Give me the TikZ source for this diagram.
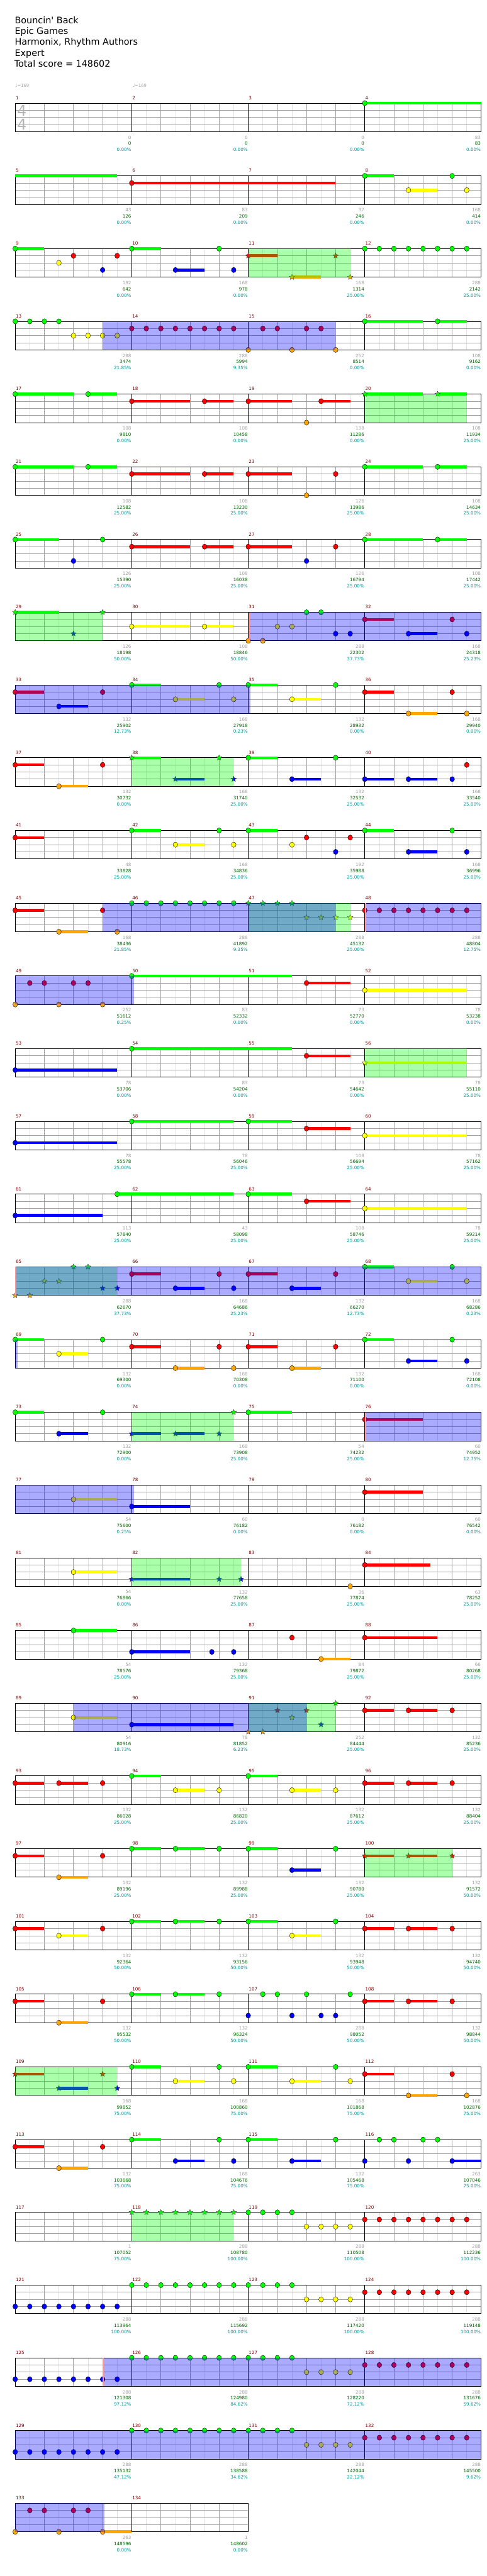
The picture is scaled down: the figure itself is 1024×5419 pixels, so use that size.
\documentclass[tikz,border=0pt]{standalone}
\usepackage{fontspec}
\setmainfont{DejaVu Sans}
\usetikzlibrary{shapes.geometric}
\definecolor{fretG}{RGB}{0,255,0}
\definecolor{fretR}{RGB}{255,0,0}
\definecolor{fretY}{RGB}{255,255,0}
\definecolor{fretB}{RGB}{0,0,255}
\definecolor{fretO}{RGB}{255,165,0}
\definecolor{barred}{RGB}{128,0,0}
\definecolor{ptgrey}{RGB}{160,160,160}
\definecolor{ptdark}{RGB}{0,100,0}
\definecolor{ptteal}{RGB}{0,150,150}
\definecolor{gridlight}{RGB}{225,225,225}
\definecolor{gridmid}{RGB}{160,160,160}
\definecolor{odpink}{RGB}{255,150,150}
\definecolor{tsgrey}{RGB}{180,180,180}
\def\ew{30.625}
\def\laneG{0}\def\laneR{1}\def\laneY{2}\def\laneB{3}\def\laneO{4}
\newcount\starno
\tikzset{
  rowat/.style={shift={(32,{217+153*(#1-1)})}},
  subline/.style={gridlight, line width=0.8pt},
  beatline/.style={gridmid, line width=0.8pt},
  laneline/.style={gridmid, line width=1pt},
  barline/.style={black, line width=0.8pt},
  staffframe/.style={black, line width=1.2pt},
  notehead/.style={draw=black, line width=0.5pt},
  starnote/.style={star, star points=5, star point ratio=2.2, minimum size=12pt,
                   inner sep=0pt, draw=black!80, line width=0.5pt},
  barnum/.style={anchor=west, inner sep=0pt, text=barred, font=\fontsize{9.5}{11}\selectfont},
  ptgray/.style={anchor=east, inner sep=0pt, text=ptgrey, font=\fontsize{9.5}{11}\selectfont},
  ptgreen/.style={anchor=east, inner sep=0pt, text=ptdark, font=\fontsize{9.5}{11}\selectfont},
  ptpct/.style={anchor=east, inner sep=0pt, text=ptteal, font=\fontsize{9.5}{11}\selectfont},
  titletxt/.style={anchor=base west, inner sep=0pt, font=\fontsize{19}{23}\selectfont},
  tempo/.style={anchor=west, inner sep=0pt, text=ptgrey, font=\fontsize{9}{11}\selectfont},
  timesig/.style={inner sep=0pt, text=tsgrey, font=\fontsize{31}{31}\selectfont},
}
% one staff of #1 bars, first bar number #2
\newcommand\staffrow[2]{%
  \pgfmathtruncatemacro\lastsub{#1*8-1}%
  \pgfmathtruncatemacro\lastbar{#1-1}%
  \pgfmathsetmacro\staffw{#1*245}%
  \foreach \i in {1,3,...,\lastsub}{\draw[subline] ({\i*\ew},0) -- ({\i*\ew},60);}
  \foreach \i in {2,4,...,\lastsub}{\draw[beatline] ({\i*\ew},0) -- ({\i*\ew},60);}
  \foreach \l in {1,2,3}{\draw[laneline] (0,\l*15) -- (\staffw,\l*15);}
  \foreach \k in {1,...,\lastbar}{\draw[barline] (\k*245,0) -- (\k*245,60);}
  \draw[staffframe] (0,0) rectangle (\staffw,60);
  \foreach \k in {0,...,\lastbar}{\pgfmathtruncatemacro\mn{#2+\k}%
    \node[barnum] (bar\mn) at (\k*245+1,-11) {\mn};}
}
\newcommand\gem[2]{\filldraw[notehead, fill=fret#2] ({#1*\ew},{\csname lane#2\endcsname*15}) ellipse [x radius=5, y radius=5.5];}
\newcommand\tail[3]{\fill[fret#3] ({#1*\ew},{\csname lane#3\endcsname*15-3}) rectangle ({#2*\ew},{\csname lane#3\endcsname*15+3});}
\newcommand\gemhold[3]{\tail{#1}{#2}{#3}\gem{#1}{#3}}
\newcommand\gemstar[2]{\global\advance\starno by 1
  \node[starnote, fill=fret#2] (star\the\starno) at ({#1*\ew},{\csname lane#2\endcsname*15}) {};}
\newcommand\starhold[3]{\tail{#1}{#2}{#3}\gemstar{#1}{#3}}
\newcommand\spzone[2]{\fill[fretG, opacity=0.333] ({#1*\ew},0) rectangle ({#2*\ew},60);}
\newcommand\odzone[2]{\fill[fretB, opacity=0.333] ({#1*\ew},0) rectangle ({#2*\ew},60);}
\newcommand\odmark[1]{\fill[odpink] ({#1*\ew},0) rectangle ({#1*\ew+3},60);}
\newcommand\scoreline[1]{%
  \foreach \g/\s/\q [count=\j] in {#1}{%
    \node[ptgray]  (sc\rw-\j)  at ({\j*245-1},72) {\g};
    \node[ptgreen] (tot\rw-\j) at ({\j*245-1},85) {\s};
    \node[ptpct]   (pct\rw-\j) at ({\j*245-1},98) {\q\%};
  }}

\begin{document}
\begin{tikzpicture}[x=1pt, y=-1pt]
  \useasboundingbox (0,0) rectangle (1024,5419);
  \fill[white] (0,0) rectangle (1024,5419);
  \node[titletxt] (song)   at (31,49)  {Bouncin\textquotesingle{} Back};
  \node[titletxt] (artist) at (31,72)  {Epic Games};
  \node[titletxt] (charter) at (31,95) {Harmonix, Rhythm Authors};
  \node[titletxt] (diff)   at (31,118) {Expert};
  \node[titletxt] (total)  at (30,141) {Total score = 148602};
  \node[tempo] (bpmA) at (32,180)  {♩=169};
  \node[tempo] (bpmB) at (279,180) {♩=169};

  % bars 1-4
  \begin{scope}[rowat=1]\def\rw{1}
    \staffrow{4}{1}
    \node[timesig] (tsnum) at (14,16) {4};
    \node[timesig] (tsden) at (14,45) {4};
    \gemhold{24}{32}{G}
    \scoreline{0/0/0.00, 0/0/0.00, 0/0/0.00, 83/83/0.00}
  \end{scope}
  % bars 5-8
  \begin{scope}[rowat=2]\def\rw{2}
    \staffrow{4}{5}
    \tail{0}{7}{G}\gemhold{8}{22}{R}\gemhold{24}{26}{G}\gem{30}{G}\gemhold{27}{29}{Y}\gem{31}{Y}
    \scoreline{43/126/0.00, 83/209/0.00, 37/246/0.00, 168/414/0.00}
  \end{scope}
  % bars 9-12
  \begin{scope}[rowat=3]\def\rw{3}
    \staffrow{4}{9}
    \gemhold{0}{2}{G}\gem{3}{Y}\gem{4}{R}\gem{6}{B}\gem{7}{R}\gemhold{8}{10}{G}\gemhold{11}{13}{B}
    \gem{14}{G}\gem{15}{B}\starhold{16}{18}{R}\starhold{19}{21}{O}\gemstar{22}{R}\gemstar{23}{O}
    \foreach \p in {24,...,31}{\gem{\p}{G}}
    \spzone{16}{23}
    \scoreline{192/642/0.00, 168/978/0.00, 168/1314/25.00, 288/2142/25.00}
  \end{scope}
  % bars 13-16
  \begin{scope}[rowat=4]\def\rw{4}
    \staffrow{4}{13}
    \foreach \p in {0,...,3}{\gem{\p}{G}}
    \foreach \p in {4,...,7}{\gem{\p}{Y}}
    \foreach \p in {8,...,15,17,18,20,21}{\gem{\p}{R}}
    \gem{16}{O}\gem{19}{O}\gem{22}{O}\gemhold{24}{28}{G}\gemhold{29}{31}{G}
    \odzone{6}{22}
    \scoreline{288/3474/21.85, 288/5994/9.35, 252/8514/0.00, 108/9162/0.00}
  \end{scope}
  % bars 17-20
  \begin{scope}[rowat=5]\def\rw{5}
    \staffrow{4}{17}
    \gemhold{0}{4}{G}\gemhold{5}{7}{G}\gemhold{8}{12}{R}\gemhold{13}{15}{R}\gemhold{16}{19}{R}
    \gemhold{21}{23}{R}\gem{20}{O}\starhold{24}{28}{G}\starhold{29}{31}{G}
    \spzone{24}{31}
    \scoreline{108/9810/0.00, 108/10458/0.00, 138/11286/0.00, 108/11934/25.00}
  \end{scope}
  % bars 21-24
  \begin{scope}[rowat=6]\def\rw{6}
    \staffrow{4}{21}
    \gemhold{0}{4}{G}\gemhold{5}{7}{G}\gemhold{8}{12}{R}\gemhold{13}{15}{R}\gemhold{16}{19}{R}
    \gem{22}{R}\gem{20}{O}\gemhold{24}{28}{G}\gemhold{29}{31}{G}
    \scoreline{108/12582/25.00, 108/13230/25.00, 126/13986/25.00, 108/14634/25.00}
  \end{scope}
  % bars 25-28
  \begin{scope}[rowat=7]\def\rw{7}
    \staffrow{4}{25}
    \gemhold{0}{3}{G}\gem{6}{G}\gem{4}{B}\gemhold{8}{12}{R}\gemhold{13}{15}{R}\gemhold{16}{19}{R}
    \gem{22}{R}\gem{20}{B}\gemhold{24}{28}{G}\gemhold{29}{31}{G}
    \scoreline{126/15390/25.00, 108/16038/25.00, 126/16794/25.00, 108/17442/25.00}
  \end{scope}
  % bars 29-32
  \begin{scope}[rowat=8]\def\rw{8}
    \staffrow{4}{29}
    \starhold{0}{3}{G}\gemstar{6}{G}\gemstar{4}{B}\gemhold{8}{12}{Y}\gemhold{13}{15}{Y}
    \gem{16}{O}\gem{17}{O}\gem{18}{Y}\gem{19}{Y}\gem{20}{G}\gem{21}{G}\gem{22}{B}\gem{23}{B}
    \gemhold{24}{26}{R}\gem{30}{R}\gemhold{27}{29}{B}\gem{31}{B}
    \spzone{0}{6}\odzone{16}{32}\odmark{16}
    \scoreline{126/18198/50.00, 108/18846/50.00, 288/22302/37.73, 168/24318/25.23}
  \end{scope}
  % bars 33-36
  \begin{scope}[rowat=9]\def\rw{9}
    \staffrow{4}{33}
    \gemhold{0}{2}{R}\gem{6}{R}\gemhold{3}{5}{B}\gemhold{8}{10}{G}\gem{14}{G}\gemhold{11}{13}{Y}
    \gem{15}{Y}\gemhold{16}{18}{G}\gemhold{19}{21}{Y}\gem{22}{G}\gemhold{24}{26}{R}\gem{30}{R}
    \gemhold{27}{29}{O}\gem{31}{O}
    \odzone{0}{16.15}
    \scoreline{132/25902/12.73, 168/27918/0.23, 132/28932/0.00, 168/29940/0.00}
  \end{scope}
  % bars 37-40
  \begin{scope}[rowat=10]\def\rw{10}
    \staffrow{4}{37}
    \gemhold{0}{2}{R}\gem{6}{R}\gemhold{3}{5}{O}\starhold{8}{10}{G}\gemstar{14}{G}\starhold{11}{13}{B}
    \gemstar{15}{B}\gemhold{16}{18}{G}\gem{22}{G}\gemhold{19}{21}{B}\gemhold{24}{26}{B}
    \gemhold{27}{29}{B}\gem{30}{B}\gem{31}{R}
    \spzone{8}{15}
    \scoreline{132/30732/0.00, 168/31740/25.00, 132/32532/25.00, 168/33540/25.00}
  \end{scope}
  % bars 41-44
  \begin{scope}[rowat=11]\def\rw{11}
    \staffrow{4}{41}
    \gemhold{0}{2}{R}\gemhold{8}{10}{G}\gem{14}{G}\gemhold{11}{13}{Y}\gem{15}{Y}\gemhold{16}{18}{G}
    \gem{19}{Y}\gem{20}{R}\gem{23}{R}\gem{22}{B}\gemhold{24}{26}{G}\gem{30}{G}\gemhold{27}{29}{B}\gem{31}{B}
    \scoreline{48/33828/25.00, 168/34836/25.00, 192/35988/25.00, 168/36996/25.00}
  \end{scope}
  % bars 45-48
  \begin{scope}[rowat=12]\def\rw{12}
    \staffrow{4}{45}
    \gemhold{0}{2}{R}\gem{6}{R}\gemhold{3}{5}{O}\gem{7}{O}
    \foreach \p in {8,...,15}{\gem{\p}{G}}
    \foreach \p in {16,...,19}{\gemstar{\p}{G}}
    \foreach \p in {20,...,23}{\gemstar{\p}{Y}}
    \foreach \p in {24,...,31}{\gem{\p}{R}}
    \spzone{16}{23}\odzone{6}{22}\odzone{24}{32}\odmark{24}
    \scoreline{168/38436/21.85, 288/41892/9.35, 288/45132/25.00, 288/48804/12.75}
  \end{scope}
  % bars 49-52
  \begin{scope}[rowat=13]\def\rw{13}
    \staffrow{4}{49}
    \gem{1}{R}\gem{2}{R}\gem{4}{R}\gem{5}{R}\gem{0}{O}\gem{3}{O}\gem{6}{O}
    \gemhold{8}{19}{G}\gemhold{20}{23}{R}\gemhold{24}{31}{Y}
    \odzone{0}{8.15}
    \scoreline{252/51612/0.25, 83/52332/0.00, 73/52770/0.00, 78/53238/0.00}
  \end{scope}
  % bars 53-56
  \begin{scope}[rowat=14]\def\rw{14}
    \staffrow{4}{53}
    \gemhold{0}{7}{B}\gemhold{8}{19}{G}\gemhold{20}{23}{R}\starhold{24}{31}{Y}
    \spzone{24}{31}
    \scoreline{78/53706/0.00, 83/54204/0.00, 73/54642/0.00, 78/55110/25.00}
  \end{scope}
  % bars 57-60
  \begin{scope}[rowat=15]\def\rw{15}
    \staffrow{4}{57}
    \gemhold{0}{7}{B}\gemhold{8}{15}{G}\gemhold{16}{19}{G}\gemhold{20}{23}{R}\gemhold{24}{31}{Y}
    \scoreline{78/55578/25.00, 78/56046/25.00, 108/56694/25.00, 78/57162/25.00}
  \end{scope}
  % bars 61-64
  \begin{scope}[rowat=16]\def\rw{16}
    \staffrow{4}{61}
    \gemhold{0}{6}{B}\gemhold{7}{15}{G}\gemhold{16}{19}{G}\gemhold{20}{23}{R}\gemhold{24}{31}{Y}
    \scoreline{113/57840/25.00, 43/58098/25.00, 108/58746/25.00, 78/59214/25.00}
  \end{scope}
  % bars 65-68
  \begin{scope}[rowat=17]\def\rw{17}
    \staffrow{4}{65}
    \gemstar{0}{O}\gemstar{1}{O}\gemstar{2}{Y}\gemstar{3}{Y}\gemstar{4}{G}\gemstar{5}{G}\gemstar{6}{B}\gemstar{7}{B}
    \gemhold{8}{10}{R}\gem{14}{R}\gemhold{16}{18}{R}\gem{22}{R}\gemhold{11}{13}{B}\gem{15}{B}
    \gemhold{19}{21}{B}\gemhold{24}{26}{G}\gem{30}{G}\gemhold{27}{29}{Y}\gem{31}{Y}
    \spzone{0}{7}\odzone{0}{32}\odmark{0}
    \scoreline{288/62670/37.73, 168/64686/25.23, 132/66270/12.73, 168/68286/0.23}
  \end{scope}
  % bars 69-72
  \begin{scope}[rowat=18]\def\rw{18}
    \staffrow{4}{69}
    \gemhold{0}{2}{G}\gem{6}{G}\gemhold{3}{5}{Y}\gemhold{8}{10}{R}\gem{14}{R}\gemhold{16}{18}{R}\gem{22}{R}
    \gemhold{11}{13}{O}\gem{15}{O}\gemhold{19}{21}{O}\gemhold{24}{26}{G}\gem{30}{G}\gemhold{27}{29}{B}\gem{31}{B}
    \odzone{0}{0.15}
    \scoreline{132/69300/0.00, 168/70308/0.00, 132/71100/0.00, 168/72108/0.00}
  \end{scope}
  % bars 73-76
  \begin{scope}[rowat=19]\def\rw{19}
    \staffrow{4}{73}
    \gemhold{0}{2}{G}\gem{6}{G}\gemhold{3}{5}{B}\starhold{8}{10}{B}\starhold{11}{13}{B}\gemstar{14}{B}
    \gemstar{15}{G}\gemhold{16}{19}{G}\gemhold{24}{28}{R}
    \spzone{8}{15}\odzone{24}{32}\odmark{24}
    \scoreline{132/72900/0.00, 168/73908/25.00, 54/74232/25.00, 60/74952/12.75}
  \end{scope}
  % bars 77-80
  \begin{scope}[rowat=20]\def\rw{20}
    \staffrow{4}{77}
    \gemhold{4}{7}{Y}\gemhold{8}{12}{B}\gemhold{24}{28}{R}
    \odzone{0}{8.15}
    \scoreline{54/75600/0.25, 60/76182/0.00, 0/76182/0.00, 60/76542/0.00}
  \end{scope}
  % bars 81-84
  \begin{scope}[rowat=21]\def\rw{21}
    \staffrow{4}{81}
    \gemhold{4}{7}{Y}\starhold{8}{12}{B}\gemstar{14}{B}\gemstar{15.5}{B}\gem{23}{O}\gemhold{24}{28.5}{R}
    \spzone{8}{15.5}
    \scoreline{54/76866/0.00, 132/77658/25.00, 36/77874/25.00, 63/78252/25.00}
  \end{scope}
  % bars 85-88
  \begin{scope}[rowat=22]\def\rw{22}
    \staffrow{4}{85}
    \gemhold{4}{7}{G}\gemhold{8}{12}{B}\gem{13.5}{B}\gem{15}{B}\gem{19}{R}\gemhold{21}{23}{O}\gemhold{24}{29}{R}
    \scoreline{54/78576/25.00, 132/79368/25.00, 84/79872/25.00, 66/80268/25.00}
  \end{scope}
  % bars 89-92
  \begin{scope}[rowat=23]\def\rw{23}
    \staffrow{4}{89}
    \gemhold{4}{7}{Y}\gemhold{8}{15}{B}\gemstar{16}{O}\gemstar{17}{O}\gemstar{18}{R}\gemstar{19}{Y}
    \gemstar{20}{R}\gemstar{21}{B}\gemstar{22}{G}\gemhold{24}{26}{R}\gemhold{27}{29}{R}\gem{30}{R}
    \spzone{16}{22}\odzone{4}{20}
    \scoreline{54/80916/18.73, 78/81852/6.23, 252/84444/25.00, 132/85236/25.00}
  \end{scope}
  % bars 93-96
  \begin{scope}[rowat=24]\def\rw{24}
    \staffrow{4}{93}
    \gemhold{0}{2}{R}\gemhold{3}{5}{R}\gem{6}{R}\gemhold{8}{10}{G}\gemhold{11}{13}{Y}\gem{14}{Y}
    \gemhold{16}{18}{G}\gemhold{19}{21}{Y}\gem{22}{Y}\gemhold{24}{26}{R}\gemhold{27}{29}{R}\gem{30}{R}
    \scoreline{132/86028/25.00, 132/86820/25.00, 132/87612/25.00, 132/88404/25.00}
  \end{scope}
  % bars 97-100
  \begin{scope}[rowat=25]\def\rw{25}
    \staffrow{4}{97}
    \gemhold{0}{2}{R}\gem{6}{R}\gemhold{3}{5}{O}\gemhold{8}{10}{G}\gemhold{11}{13}{G}\gem{14}{G}
    \gemhold{16}{18}{G}\gem{22}{G}\gemhold{19}{21}{B}\starhold{24}{26}{R}\starhold{27}{29}{R}\gemstar{30}{R}
    \spzone{24}{30}
    \scoreline{132/89196/25.00, 132/89988/25.00, 132/90780/25.00, 132/91572/50.00}
  \end{scope}
  % bars 101-104
  \begin{scope}[rowat=26]\def\rw{26}
    \staffrow{4}{101}
    \gemhold{0}{2}{R}\gem{6}{R}\gemhold{3}{5}{Y}\gemhold{8}{10}{G}\gemhold{11}{13}{G}\gem{14}{G}
    \gemhold{16}{18}{G}\gem{22}{G}\gemhold{19}{21}{Y}\gemhold{24}{26}{R}\gemhold{27}{29}{R}\gem{30}{R}
    \scoreline{132/92364/50.00, 132/93156/50.00, 132/93948/50.00, 132/94740/50.00}
  \end{scope}
  % bars 105-108
  \begin{scope}[rowat=27]\def\rw{27}
    \staffrow{4}{105}
    \gemhold{0}{2}{R}\gem{6}{R}\gemhold{3}{5}{O}\gemhold{8}{10}{G}\gemhold{11}{13}{G}\gem{14}{G}
    \foreach \p in {17,18,20,23}{\gem{\p}{G}}
    \foreach \p in {16,19,21,22}{\gem{\p}{B}}
    \gemhold{24}{26}{R}\gemhold{27}{29}{R}\gem{30}{R}
    \scoreline{132/95532/50.00, 132/96324/50.00, 288/98052/50.00, 132/98844/50.00}
  \end{scope}
  % bars 109-112
  \begin{scope}[rowat=28]\def\rw{28}
    \staffrow{4}{109}
    \starhold{0}{2}{R}\gemstar{6}{R}\starhold{3}{5}{B}\gemstar{7}{B}\gemhold{8}{10}{G}\gem{14}{G}
    \gemhold{11}{13}{Y}\gem{15}{Y}\gemhold{16}{18}{G}\gem{22}{G}\gemhold{19}{21}{Y}\gem{23}{Y}
    \gemhold{24}{26}{R}\gem{30}{R}\gemhold{27}{29}{O}\gem{31}{O}
    \spzone{0}{7}
    \scoreline{168/99852/75.00, 168/100860/75.00, 168/101868/75.00, 168/102876/75.00}
  \end{scope}
  % bars 113-116
  \begin{scope}[rowat=29]\def\rw{29}
    \staffrow{4}{113}
    \gemhold{0}{2}{R}\gem{6}{R}\gemhold{3}{5}{O}\gemhold{8}{10}{G}\gem{14}{G}\gemhold{11}{13}{B}
    \gem{15}{B}\gemhold{16}{18}{G}\gem{22}{G}\gemhold{19}{21}{B}
    \gem{24}{B}\gem{25}{G}\gem{26}{G}\gem{27}{B}\gem{28}{G}\gem{29}{G}\gemhold{30}{32}{B}
    \scoreline{132/103668/75.00, 168/104676/75.00, 132/105468/75.00, 263/107046/75.00}
  \end{scope}
  % bars 117-120
  \begin{scope}[rowat=30]\def\rw{30}
    \staffrow{4}{117}
    \foreach \p in {8,...,15}{\gemstar{\p}{G}}
    \foreach \p in {16,...,19}{\gem{\p}{G}}
    \foreach \p in {20,...,23}{\gem{\p}{Y}}
    \foreach \p in {24,...,31}{\gem{\p}{R}}
    \spzone{8}{15}
    \scoreline{1/107052/75.00, 288/108780/100.00, 288/110508/100.00, 288/112236/100.00}
  \end{scope}
  % bars 121-124
  \begin{scope}[rowat=31]\def\rw{31}
    \staffrow{4}{121}
    \foreach \p in {0,...,7}{\gem{\p}{B}}
    \foreach \p in {8,...,19}{\gem{\p}{G}}
    \foreach \p in {20,...,23}{\gem{\p}{Y}}
    \foreach \p in {24,...,31}{\gem{\p}{R}}
    \scoreline{288/113964/100.00, 288/115692/100.00, 288/117420/100.00, 288/119148/100.00}
  \end{scope}
  % bars 125-128
  \begin{scope}[rowat=32]\def\rw{32}
    \staffrow{4}{125}
    \foreach \p in {0,...,7}{\gem{\p}{B}}
    \foreach \p in {8,...,19}{\gem{\p}{G}}
    \foreach \p in {20,...,23}{\gem{\p}{Y}}
    \foreach \p in {24,...,31}{\gem{\p}{R}}
    \odzone{6}{32}\odmark{6}
    \scoreline{288/121308/97.12, 288/124980/84.62, 288/128220/72.12, 288/131676/59.62}
  \end{scope}
  % bars 129-132
  \begin{scope}[rowat=33]\def\rw{33}
    \staffrow{4}{129}
    \foreach \p in {0,...,7}{\gem{\p}{B}}
    \foreach \p in {8,...,19}{\gem{\p}{G}}
    \foreach \p in {20,...,23}{\gem{\p}{Y}}
    \foreach \p in {24,...,31}{\gem{\p}{R}}
    \odzone{0}{32}
    \scoreline{288/135132/47.12, 288/138588/34.62, 288/142044/22.12, 288/145500/9.62}
  \end{scope}
  % bars 133-134
  \begin{scope}[rowat=34]\def\rw{34}
    \staffrow{2}{133}
    \gem{1}{R}\gem{2}{R}\gem{4}{R}\gem{5}{R}\gem{0}{O}\gem{3}{O}\gemhold{6}{8}{O}
    \odzone{0}{6.13}
    \scoreline{263/148596/0.00, 1/148602/0.00}
  \end{scope}
\end{tikzpicture}
\end{document}
